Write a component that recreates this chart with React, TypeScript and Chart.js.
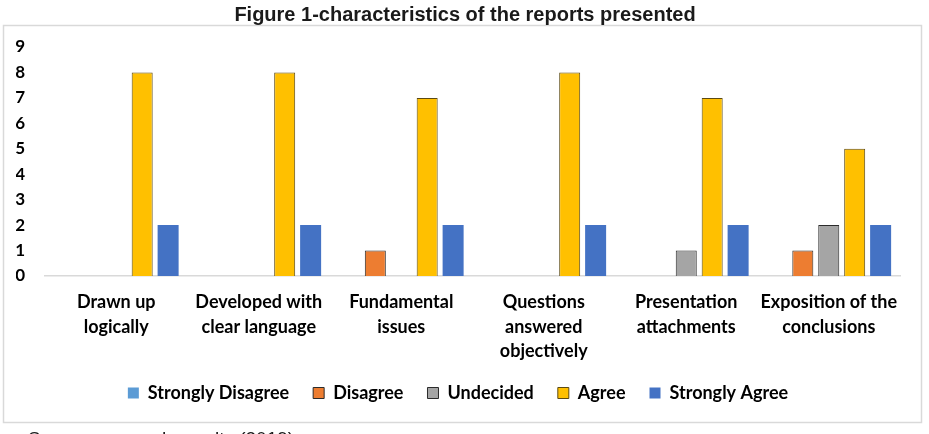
import React, { useEffect, useRef } from "react";
import { Chart, registerables } from "chart.js";

Chart.register(...registerables);

const categories: string[][] = [
  ["Drawn up", "logically"],
  ["Developed with", "clear language"],
  ["Fundamental", "issues"],
  ["Questions", "answered", "objectively"],
  ["Presentation", "attachments"],
  ["Exposition of the", "conclusions"],
];

const stronglyDisagree = [0, 0, 0, 0, 0, 0];
const disagree = [0, 0, 1, 0, 0, 1];
const undecided = [0, 0, 0, 0, 1, 2];
const agree = [8, 8, 7, 8, 7, 5];
const stronglyAgree = [2, 2, 2, 2, 2, 2];

const titleText = "Figure 1-characteristics of the reports presented";
const sourceText = "Source: research results (2019)";

const W = 929;
const H = 434;
const LABEL_FONT = "Lato";

// Draws the white page, the framed panel, the heading and the source note.
const framePlugin = {
  id: "frame",
  beforeDraw(chart: Chart) {
    const ctx = chart.ctx;
    ctx.save();
    ctx.fillStyle = "#ffffff";
    ctx.fillRect(0, 0, W, H);
    ctx.strokeStyle = "#d9d9d9";
    ctx.lineWidth = 1.5;
    ctx.strokeRect(3.5, 25.5, 918, 397);
    ctx.fillStyle = "#1a1a1a";
    ctx.font = "bold 20px 'Liberation Sans', Arial, sans-serif";
    ctx.textAlign = "center";
    ctx.textBaseline = "alphabetic";
    ctx.fillText(titleText, 465, 21);
    ctx.textAlign = "left";
    ctx.textBaseline = "top";
    ctx.font = "19px 'Liberation Sans', Arial, sans-serif";
    ctx.fillText(sourceText, 28, 430);
    ctx.restore();
  },
};

export default function App() {
  const canvasRef = useRef<HTMLCanvasElement | null>(null);

  useEffect(() => {
    if (!canvasRef.current) return;
    const chart = new Chart(canvasRef.current, {
      type: "bar",
      data: {
        labels: categories,
        datasets: [
          { label: "Strongly Disagree", data: stronglyDisagree, backgroundColor: "#5b9bd5", borderWidth: 0 },
          { label: "Disagree", data: disagree, backgroundColor: "#ed7d31", borderColor: "#2b2b2b", borderWidth: 1 },
          { label: "Undecided", data: undecided, backgroundColor: "#a5a5a5", borderColor: "#2b2b2b", borderWidth: 1 },
          { label: "Agree", data: agree, backgroundColor: "#ffc000", borderColor: "#5c4a12", borderWidth: 1 },
          { label: "Strongly Agree", data: stronglyAgree, backgroundColor: "#4472c4", borderWidth: 0 },
        ],
      },
      options: {
        responsive: false,
        animation: false,
        devicePixelRatio: 1,
        datasets: { bar: { categoryPercentage: 0.91, barPercentage: 0.81 } },
        layout: { padding: { left: 16, right: 29, top: 47, bottom: 22 } },
        scales: {
          x: {
            grid: { display: false, drawTicks: false },
            border: { display: true, color: "#d9d9d9", width: 1.5 },
            afterFit: (scale: any) => {
              scale.height = 84;
            },
            ticks: {
              color: "#000000",
              font: { family: LABEL_FONT, weight: "bold", size: 18, lineHeight: 1.36 },
              maxRotation: 0,
              autoSkip: false,
              padding: 14,
            },
          },
          y: {
            min: 0,
            max: 9,
            grid: { display: false, drawTicks: false },
            border: { display: false },
            afterFit: (scale: any) => {
              scale.width = 29;
            },
            ticks: {
              stepSize: 1,
              color: "#000000",
              font: { family: LABEL_FONT, weight: "bold", size: 17 },
              padding: 20,
            },
          },
        },
        plugins: {
          title: { display: false },
          tooltip: { enabled: false },
          legend: {
            position: "bottom",
            labels: {
              color: "#000000",
              boxWidth: 11,
              boxHeight: 11,
              padding: 24,
              font: { family: LABEL_FONT, weight: "bold", size: 18 },
            },
          },
        },
      },
      plugins: [framePlugin],
    });
    return () => chart.destroy();
  }, []);

  return (
    <div
      style={{
        position: "fixed",
        left: 0,
        top: 0,
        width: W,
        height: H,
        overflow: "hidden",
        background: "#ffffff",
      }}
    >
      <canvas ref={canvasRef} width={W} height={H} style={{ display: "block" }} />
    </div>
  );
}
